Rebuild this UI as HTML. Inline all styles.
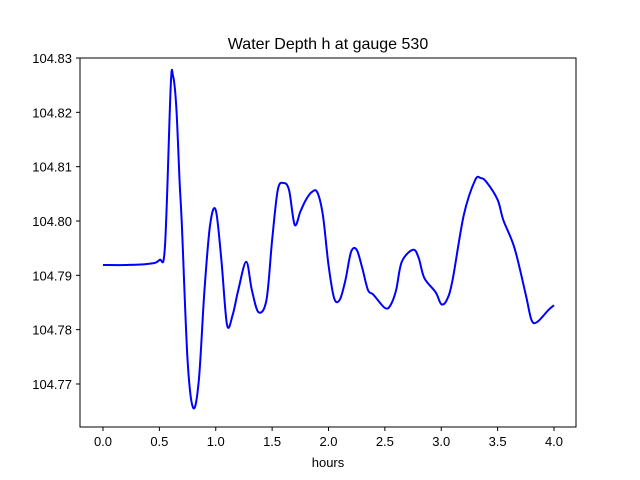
<!DOCTYPE html>
<html><head><meta charset="utf-8"><style>
body{margin:0;background:#fff}
svg{display:block;font-family:"Liberation Sans","DejaVu Sans",sans-serif}
</style></head><body>
<svg id="chart" width="640" height="480">
<rect x="0" y="0" width="640" height="480" fill="#fff"/>
<text x="328" y="49" font-size="16" text-anchor="middle">Water Depth h at gauge 530</text>
<g id="ticks"></g>
<path id="line" fill="none" stroke="#0000ff" stroke-width="2"/>
<rect x="80" y="58" width="496" height="369" fill="none" stroke="#000" stroke-width="1"/>
<text x="328" y="467" font-size="13" text-anchor="middle">hours</text>
</svg>
<script>
const hours = [0,0.2,0.4,0.5,0.55,0.6,0.62,0.65,0.68,0.7,0.75,0.8,0.85,0.9,0.95,1.0,1.05,1.1,1.15,1.2,1.27,1.32,1.38,1.45,1.5,1.55,1.6,1.65,1.7,1.75,1.8,1.85,1.9,1.95,2.0,2.05,2.1,2.15,2.2,2.25,2.3,2.35,2.4,2.5,2.55,2.6,2.65,2.75,2.8,2.85,2.95,3.0,3.05,3.1,3.2,3.3,3.35,3.4,3.5,3.55,3.65,3.75,3.8,3.85,3.95,4.0];
const depth = [104.7919,104.7919,104.7921,104.7928,104.7955,104.8245,104.8268,104.8210,104.8070,104.7990,104.7744,104.7656,104.7707,104.7873,104.7993,104.8020,104.7928,104.7809,104.7827,104.7873,104.7925,104.7873,104.7832,104.7855,104.7965,104.8057,104.8070,104.8057,104.7993,104.8017,104.8039,104.8053,104.8053,104.8011,104.7919,104.7858,104.7855,104.7891,104.7943,104.7947,104.7913,104.7873,104.7864,104.7840,104.7845,104.7873,104.7925,104.7947,104.7932,104.7895,104.7869,104.7847,104.7855,104.7891,104.8011,104.8075,104.8079,104.8072,104.8039,104.8002,104.7950,104.7864,104.7818,104.7814,104.7836,104.7845];
const xTicks = [0.0,0.5,1.0,1.5,2.0,2.5,3.0,3.5,4.0];
const xTickLabels = ["0.0","0.5","1.0","1.5","2.0","2.5","3.0","3.5","4.0"];
const yTicks = [104.77,104.78,104.79,104.80,104.81,104.82,104.83];
const yTickLabels = ["104.77","104.78","104.79","104.80","104.81","104.82","104.83"];
const xs = h => 103 + h * 112.75;
const ys = v => 58 + (104.83 - v) * 5433;
const NS = "http://www.w3.org/2000/svg";
const g = document.getElementById('ticks');
xTicks.forEach((t,i)=>{
  const l=document.createElementNS(NS,'line');
  l.setAttribute('x1',xs(t));l.setAttribute('x2',xs(t));l.setAttribute('y1',427);l.setAttribute('y2',431);l.setAttribute('stroke','#000');
  
  
  g.appendChild(l);
  const tx=document.createElementNS(NS,'text');
  tx.setAttribute('x',xs(t));tx.setAttribute('y',446);tx.setAttribute('font-size','13');tx.setAttribute('text-anchor','middle');
  tx.textContent=xTickLabels[i];
  
  
  g.appendChild(tx);
});
yTicks.forEach((t,i)=>{
  const l=document.createElementNS(NS,'line');
  l.setAttribute('x1',76);l.setAttribute('x2',80);l.setAttribute('y1',ys(t));l.setAttribute('y2',ys(t));l.setAttribute('stroke','#000');
  
  
  g.appendChild(l);
  const tx=document.createElementNS(NS,'text');
  tx.setAttribute('x',72);tx.setAttribute('y',ys(t)+5);tx.setAttribute('font-size','13');tx.setAttribute('text-anchor','end');
  tx.textContent=yTickLabels[i];
  
  
  g.appendChild(tx);
});
const P = hours.map((h,i)=>[xs(h),ys(depth[i])]);
let d = `M${P[0][0]},${P[0][1]}`;
for(let i=0;i<P.length-1;i++){
  const p0=P[Math.max(i-1,0)],p1=P[i],p2=P[i+1],p3=P[Math.min(i+2,P.length-1)];
  const c1=[p1[0]+(p2[0]-p0[0])/6,p1[1]+(p2[1]-p0[1])/6];
  const c2=[p2[0]-(p3[0]-p1[0])/6,p2[1]-(p3[1]-p1[1])/6];
  d+=` C${c1[0]},${c1[1]} ${c2[0]},${c2[1]} ${p2[0]},${p2[1]}`;
}
document.getElementById('line').setAttribute('d',d);
</script>
</body></html>
